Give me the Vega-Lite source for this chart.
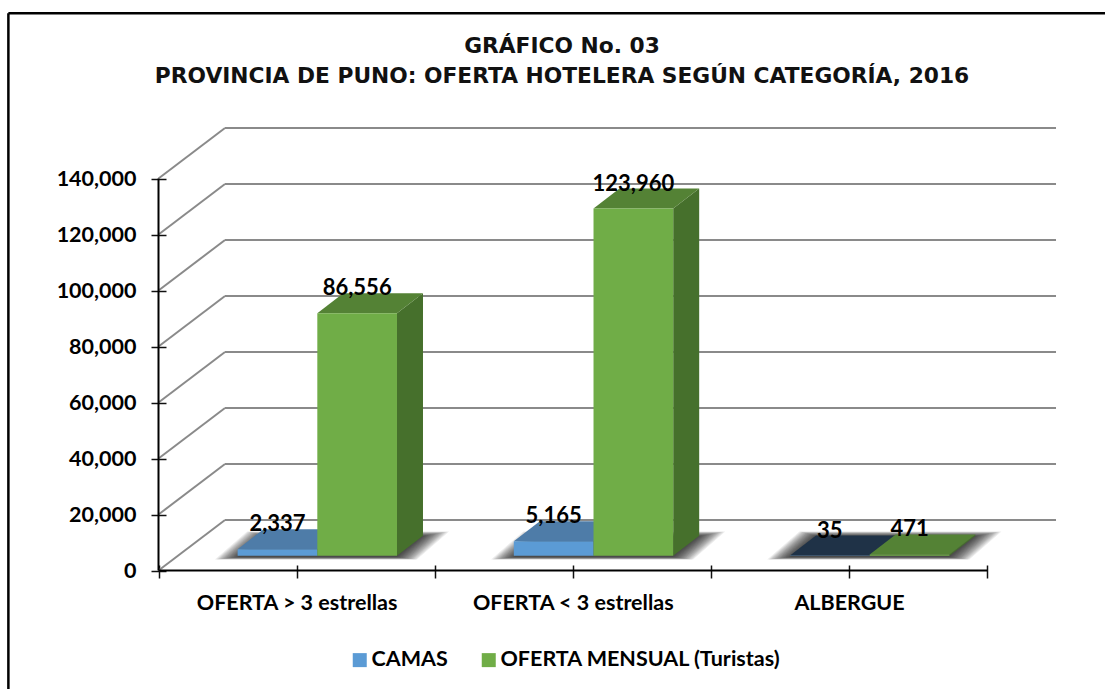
{
"$schema":"https://vega.github.io/schema/vega-lite/v6.json",
"width":1105,"height":689,"padding":0,"autosize":{"type":"none"},"background":"white",
"view":{"stroke":null},
"title":{"text":["GRÁFICO No. 03","PROVINCIA DE PUNO: OFERTA HOTELERA SEGÚN CATEGORÍA, 2016"],"font":"DejaVu Sans","fontWeight":"bold","fontSize":21.75,"lineHeight":30,"color":"#111111","anchor":"start","align":"center","frame":"group","baseline":"top","offset":-88,"dx":562},
"data":{"values":[
{"category":"OFERTA > 3 estrellas","series":"CAMAS","value":2337},
{"category":"OFERTA > 3 estrellas","series":"OFERTA MENSUAL (Turistas)","value":86556},
{"category":"OFERTA < 3 estrellas","series":"CAMAS","value":5165},
{"category":"OFERTA < 3 estrellas","series":"OFERTA MENSUAL (Turistas)","value":123960},
{"category":"ALBERGUE","series":"CAMAS","value":35},
{"category":"ALBERGUE","series":"OFERTA MENSUAL (Turistas)","value":471}
]},
"transform":[
{"calculate":"indexof(['OFERTA > 3 estrellas','OFERTA < 3 estrellas','ALBERGUE'],datum.category)","as":"pos"},
{"calculate":"datum.pos+0.575+(datum.series==='CAMAS'?-0.2885:0)","as":"xL"},
{"calculate":"datum.xL+0.2885","as":"xR"},
{"calculate":"(datum.xL+datum.xR)/2","as":"xC"},
{"calculate":"5286","as":"vBase"},
{"calculate":"5286+datum.value","as":"vTop"},
{"calculate":"datum.vTop+8929","as":"labelY"},
{"calculate":"[0,1,2,3]","as":"k"},
{"calculate":"datum.series+datum.category","as":"id"}
],
"layer":[
{"data":{"values":[{"v":0},{"v":20000},{"v":40000},{"v":60000},{"v":80000},{"v":100000},{"v":120000},{"v":140000}]},
 "transform":[{"calculate":"datum.v+18036","as":"vb"},{"calculate":"0.2408","as":"x1"},{"calculate":"3.2495","as":"x2"}],
 "mark":{"type":"rule","color":"#8a8a8a","strokeWidth":2},
 "encoding":{
  "x":{"field":"x1","type":"quantitative","scale":{"domain":[-0.57386,3.42686],"range":[0,1105],"nice":false,"zero":false},
   "axis":{"values":[0,0.5,1,1.5,2,2.5,3],"title":null,"grid":false,"domain":false,"orient":"bottom","offset":-124,"tickSize":13,"tickColor":"#111111","tickWidth":1.5,"labelPadding":14,"labelLimit":400,"labelFont":"Lato","labelFontWeight":"bold","labelFontSize":21.5,"labelColor":"#000000","labelOverlap":false,"labelFlush":false,"labelExpr":"datum.value===0.5?'OFERTA > 3 estrellas':datum.value===1.5?'OFERTA < 3 estrellas':datum.value===2.5?'ALBERGUE':''"}},
  "x2":{"field":"x2"},
  "y":{"field":"vb","type":"quantitative","scale":{"domain":[-42321,203750],"range":[689,0],"nice":false,"zero":false},
   "axis":{"values":[0,20000,40000,60000,80000,100000,120000,140000],"labelExpr":"format(datum.value,',')","title":null,"grid":false,"domain":false,"orient":"left","offset":-166,"tickSize":15,"tickColor":"#111111","tickWidth":1.5,"labelPadding":15,"labelOffset":1,"labelFont":"Lato","labelFontWeight":"bold","labelFontSize":21.5,"labelColor":"#000000"}}
 }},
{"data":{"values":[{"v":0},{"v":20000},{"v":40000},{"v":60000},{"v":80000},{"v":100000},{"v":120000},{"v":140000}]},
 "transform":[{"calculate":"datum.v+18036","as":"vb"},{"calculate":"0","as":"x1"},{"calculate":"0.2408","as":"x2"}],
 "mark":{"type":"rule","color":"#8a8a8a","strokeWidth":2},
 "encoding":{
  "x":{"field":"x1","type":"quantitative"},
  "x2":{"field":"x2"},
  "y":{"field":"v","type":"quantitative"},
  "y2":{"field":"vb"}
 }},
{"data":{"values":[{"x1":0,"x2":0,"y1":0,"y2":140000,"w":"t"},{"x1":0,"x2":3,"y1":0,"y2":0,"w":"t"}]},"mark":{"type":"rule","color":"#000000","strokeWidth":2},
 "encoding":{"x":{"field":"x1","type":"quantitative"},"x2":{"field":"x2"},"y":{"field":"y1","type":"quantitative"},"y2":{"field":"y2"}}},
{"data":{"values":[{"x1":-0.5435,"x2":-0.5435,"y1":-42321,"y2":199000},{"x1":-0.5435,"x2":3.42686,"y1":199000,"y2":199000}]},"mark":{"type":"rule","color":"#000000","strokeWidth":2.5},
 "encoding":{"x":{"field":"x1","type":"quantitative"},"x2":{"field":"x2"},"y":{"field":"y1","type":"quantitative"},"y2":{"field":"y2"}}},
{"transform":[
 {"filter":"datum.series!=='CAMAS'"},
 {"calculate":"[0,1,2,3,4,5,6,7,8,9,10,11,12,13,14,15]","as":"e"},{"flatten":["e"]},{"flatten":["k"]},
 {"calculate":"datum.xL-0.2885-datum.e*0.0055","as":"sL"},
 {"calculate":"datum.xR+datum.e*0.0048","as":"sR"},
 {"calculate":"0.0941+datum.e*0.0015","as":"sD"},
 {"calculate":"4800-datum.e*60","as":"sB"},
 {"calculate":"12300+datum.e*110","as":"sT"},
 {"calculate":"datum.k===0?datum.sL:datum.k===1?datum.sL+datum.sD:datum.k===2?datum.sR:datum.sR+datum.sD","as":"px"},
 {"calculate":"datum.k===3?datum.sT:datum.sB","as":"py"},
 {"calculate":"datum.k===0?datum.sB:datum.sT","as":"py2"},
 {"calculate":"datum.id+datum.e","as":"sid"}
 ],
 "mark":{"type":"area","color":"#000000","opacity":0.07,"interpolate":"linear"},
 "encoding":{"x":{"field":"px","type":"quantitative"},"y":{"field":"py","type":"quantitative"},"y2":{"field":"py2"},"detail":{"field":"sid"}}},
{"transform":[{"flatten":["k"]},{"filter":"datum.series==='CAMAS'"},
 {"calculate":"datum.k===0?datum.xL:datum.k===1?datum.xL+0.0941:datum.k===2?datum.xR:datum.xR+0.0941","as":"px"},
 {"calculate":"datum.k===3?datum.vTop+7143:datum.vTop","as":"py"},
 {"calculate":"datum.k===0?datum.vTop:datum.vTop+7143","as":"py2"},
 {"calculate":"datum.value<100?'#1f3247':'#4e7ca8'","as":"topColor"}],
 "mark":{"type":"area","interpolate":"linear"},
 "encoding":{"x":{"field":"px","type":"quantitative"},"y":{"field":"py","type":"quantitative"},"y2":{"field":"py2"},"detail":{"field":"id"},"fill":{"field":"topColor","type":"nominal","scale":null}}},
{"transform":[{"flatten":["k"]},{"filter":"datum.k<2"},
 {"calculate":"datum.k===0?datum.xR:datum.xR+0.0941","as":"px"},
 {"calculate":"datum.k===0?5286:12429","as":"py"},
 {"calculate":"datum.k===0?datum.vTop:datum.vTop+7143","as":"py2"},
 {"calculate":"datum.series==='CAMAS'?'#3d6a96':'#46702c'","as":"sideColor"}],
 "mark":{"type":"area","interpolate":"linear"},
 "encoding":{"x":{"field":"px","type":"quantitative"},"y":{"field":"py","type":"quantitative"},"y2":{"field":"py2"},"detail":{"field":"id"},"fill":{"field":"sideColor","type":"nominal","scale":null}}},
{"transform":[{"flatten":["k"]},{"filter":"datum.series!=='CAMAS'"},
 {"calculate":"datum.k===0?datum.xL:datum.k===1?datum.xL+0.0941:datum.k===2?datum.xR:datum.xR+0.0941","as":"px"},
 {"calculate":"datum.k===3?datum.vTop+7143:datum.vTop","as":"py"},
 {"calculate":"datum.k===0?datum.vTop:datum.vTop+7143","as":"py2"}],
 "mark":{"type":"area","interpolate":"linear","fill":"#548235"},
 "encoding":{"x":{"field":"px","type":"quantitative"},"y":{"field":"py","type":"quantitative"},"y2":{"field":"py2"},"detail":{"field":"id"}}},
{"mark":{"type":"rect"},
 "encoding":{"x":{"field":"xL","type":"quantitative"},"x2":{"field":"xR"},"y":{"field":"vBase","type":"quantitative"},"y2":{"field":"vTop"},
  "color":{"field":"series","type":"nominal","scale":{"domain":["CAMAS","OFERTA MENSUAL (Turistas)"],"range":["#5b9bd5","#70ad47"]},
   "legend":{"title":null,"orient":"none","legendX":349,"legendY":649,"direction":"horizontal","columns":2,"symbolType":"square","symbolSize":196,"symbolStrokeWidth":0,"labelFont":"Lato","labelFontWeight":"bold","labelFontSize":21.5,"labelColor":"#000000","labelOffset":1,"columnPadding":30,"labelLimit":400}}}},
{"mark":{"type":"text","font":"Lato","fontWeight":"bold","fontSize":22,"color":"#000000","baseline":"middle","align":"center"},
 "encoding":{"x":{"field":"xC","type":"quantitative"},"y":{"field":"labelY","type":"quantitative"},"text":{"field":"value","type":"quantitative","format":","}}}
]
}
